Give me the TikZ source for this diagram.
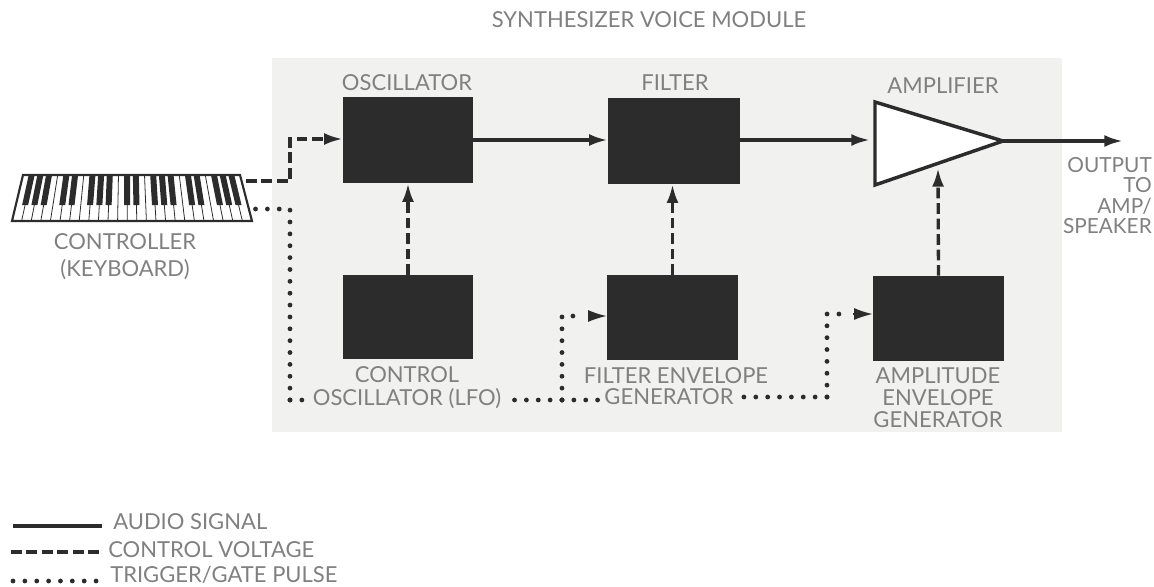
\documentclass[tikz,border=0pt]{standalone}
\usepackage{fontspec}
\setmainfont{Lato}
\usetikzlibrary{arrows.meta, positioning}
\definecolor{PanelGray}{RGB}{241,241,239}
\definecolor{BlockDark}{RGB}{44,44,44}
\definecolor{LabelGray}{RGB}{128,128,128}
\tikzset{
    block/.style={draw=none, fill=BlockDark, inner sep=0pt},
    lbl/.style={text=LabelGray, font=\fontsize{16.5}{19}\selectfont, inner sep=0pt, align=center},
    audio/.style={draw=BlockDark, line width=2.6pt},
    cv/.style={draw=BlockDark, line width=2.5pt, dash pattern=on 8pt off 3.6pt},
    gate/.style={draw=BlockDark, line width=3.6pt, line cap=round, dash pattern=on 0pt off 8.9pt},
    tip/.style={-{Latex[length=14pt,width=9pt]}}
}
\begin{document}
\begin{tikzpicture}[x=0.75pt, y=-0.75pt]
    \useasboundingbox (0,0) rectangle (1154,586);
    \node[fill=PanelGray, inner sep=0pt, minimum width=592.5pt, minimum height=280.5pt] (panel) at (667,245) {};

    % keyboard
    \coordinate (kbnw) at (23,175);
    \coordinate (kbne) at (240,175);
    \coordinate (kbse) at (252,221);
    \coordinate (kbsw) at (12,221);
    \foreach \i in {1,...,24} {
        \pgfmathsetmacro{\xtop}{23+\i*8.68}
        \pgfmathsetmacro{\xbot}{12+\i*9.6}
        \draw[BlockDark, line width=0.6pt] (\xtop,175) -- (\xbot,221);
    }
    \foreach \i in {1,2,3,5,6,8,9,10,12,13,15,16,17,19,20,22,23,24} {
        \pgfmathsetmacro{\xtop}{23+\i*8.68}
        \pgfmathsetmacro{\xmid}{\xtop+0.65*(12+\i*9.6-\xtop)}
        \fill[BlockDark] (\xtop-3,175) -- (\xtop+3,175) -- (\xmid+3,205) -- (\xmid-3,205) -- cycle;
    }
    \draw[BlockDark, line width=1.6pt] (kbnw) -- (kbne) -- (kbse) -- (kbsw) -- cycle;
    \node[lbl] (kblabel) at (125,256.5) {CONTROLLER\\[1pt](KEYBOARD)};

    % blocks
    \node[block, minimum width=97.5pt, minimum height=64.5pt] (osc) at (408,140) {};
    \node[block, minimum width=99pt, minimum height=64.5pt] (filter) at (674,141) {};
    \node[block, minimum width=97.5pt, minimum height=63pt] (lfo) at (408,317) {};
    \node[block, minimum width=98.25pt, minimum height=63.75pt] (fenv) at (672.5,317.5) {};
    \node[block, minimum width=98.25pt, minimum height=63.75pt] (aenv) at (938.5,318.5) {};

    % amplifier
    \coordinate (ampnw) at (875,102);
    \coordinate (ampsw) at (875,185);
    \coordinate (ampout) at (1003,141);
    \coordinate (ampin) at (870,140);
    \coordinate (ampctl) at (938,168);
    \fill[white] (ampnw) -- (ampout) -- (ampsw) -- cycle;
    \draw[BlockDark, line width=2.6pt, line join=miter] (ampnw) -- (ampout) -- (ampsw) -- cycle;

    % labels
    \node[lbl] (title) at (649,20) {SYNTHESIZER VOICE MODULE};
    \node[lbl] (osclabel) at (407,83) {OSCILLATOR};
    \node[lbl] (filterlabel) at (675,83) {FILTER};
    \node[lbl] (amplabel) at (943,86) {AMPLIFIER};
    \node[lbl, align=right, anchor=north east, font=\fontsize{15.6}{19}\selectfont] (outlabel) at (1152,157) {OUTPUT\\[-3.6pt]TO\\[-3.6pt]AMP/\\[-3.6pt]SPEAKER};
    \node[lbl] (lfolabelb) at (407,399) {OSCILLATOR (LFO)};
    \node[lbl] (lfolabela) at (407,375) {CONTROL};
    \node[lbl] (fenvlabelb) at (669,397) {GENERATOR};
    \node[lbl] (fenvlabela) at (676,376) {FILTER ENVELOPE};
    \node[lbl] (aenvlabel) at (938,398) {AMPLITUDE\\[-2.6pt]ENVELOPE\\[-2.6pt]GENERATOR};

    % signal paths
    \coordinate (kbcv) at (246,181);
    \coordinate (kbgate) at (255,209);
    \coordinate (busleft) at (290,400);
    \coordinate (fbranch) at (562,400);
    \coordinate (abranch) at (827,397);
    \draw[audio, tip] (osc.east |- 0,140) -- (filter.west |- 0,140);
    \draw[audio, tip] (filter.east |- 0,140) -- (ampin);
    \draw[audio, tip] (ampout) -- ++(120,0) coordinate (outend);
    \draw[cv, tip] (kbcv) -| (290,139) -- (osc.west |- 0,139);
    \draw[cv, tip] (lfo.north) -- (osc.south);
    \draw[cv, tip] (fenv.north) -- (filter.south -| fenv.north);
    \draw[cv, tip] (aenv.north) -- (ampctl);
    \draw[gate] (busleft) |- (kbgate);
    \draw[gate] (busleft) -- (lfolabelb.west |- busleft);
    \draw[gate] (fbranch) -- ([xshift=4pt]lfolabelb.east |- busleft);
    \draw[gate] (fbranch) -- ([xshift=-1pt]fenvlabelb.west |- busleft);
    \draw[gate] (abranch) -- ([xshift=5pt]fenvlabelb.east);
    \draw[gate] (fbranch) |- (583,316);
    \draw[gate] (abranch) |- (847,314);
    \draw[tip, BlockDark, line width=1.2pt] (588,316) -- (fenv.west |- 0,316);
    \draw[tip, BlockDark, line width=1.2pt] (853,314) -- (aenv.west |- 0,314);

    % legend
    \node[lbl, anchor=west] (audiolabel) at (113,522) {AUDIO SIGNAL};
    \node[lbl, anchor=west] (cvlabel) at (108,550) {CONTROL VOLTAGE};
    \node[lbl, anchor=west] (gatelabel) at (110,575) {TRIGGER/GATE PULSE};
    \coordinate (audiostart) at (13,526);
    \coordinate (cvstart) at (11,552);
    \coordinate (gatestart) at (13,581);
    \draw[audio] (audiostart) -- ++(89,0);
    \draw[cv] (cvstart) -- ++(92,0);
    \draw[gate] (gatestart) -- ++(85,0);
\end{tikzpicture}
\end{document}
